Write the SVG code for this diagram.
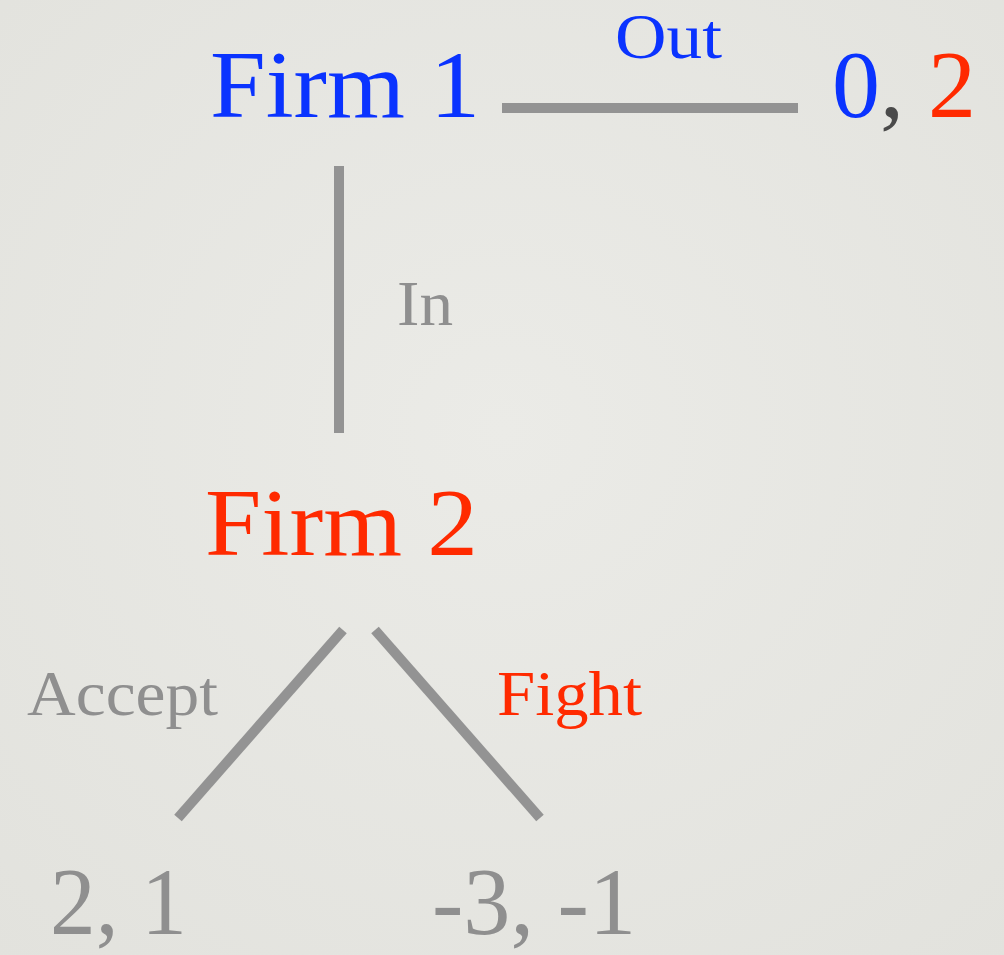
<svg xmlns="http://www.w3.org/2000/svg" width="1004" height="955" viewBox="0 0 1004 955">
  <defs>
    <radialGradient id="bg" cx="50%" cy="45%" r="75%">
      <stop offset="0" stop-color="#ebebe7"/>
      <stop offset="1" stop-color="#e2e2dd"/>
    </radialGradient>
  </defs>
  <style>
    text { font-family: "Liberation Serif", "DejaVu Serif", serif; }
    .big { font-size: 96px; }
    .small { font-size: 64px; }
    .blue { fill: #0a33ff; }
    .red { fill: #ff2a00; }
    .gray { fill: #8f8f8f; }
    .edge { stroke: #939393; stroke-width: 10; fill: none; }
  </style>
  <rect width="1004" height="955" fill="url(#bg)"/>

  <g id="connectors">
    <line class="edge" x1="502" y1="108" x2="798" y2="108"/>
    <line class="edge" x1="339" y1="166" x2="339" y2="433"/>
    <line class="edge" x1="343" y1="630" x2="178" y2="818"/>
    <line class="edge" x1="375" y1="630" x2="540" y2="818"/>
  </g>

  <g id="firm1">
    <text class="big blue" x="210" y="117" textLength="270" lengthAdjust="spacingAndGlyphs">Firm 1</text>
  </g>
  <g id="payoff-out">
    <text class="big" x="832" y="117"><tspan class="blue">0</tspan><tspan fill="#4a4a4a">,</tspan><tspan class="red" x="928">2</tspan></text>
  </g>
  <g id="label-out">
    <text class="small blue" x="615" y="58" textLength="107" lengthAdjust="spacingAndGlyphs">Out</text>
  </g>
  <g id="label-in">
    <text class="small gray" x="397" y="325" textLength="56" lengthAdjust="spacingAndGlyphs">In</text>
  </g>
  <g id="firm2">
    <text class="big red" x="205" y="555" textLength="273" lengthAdjust="spacingAndGlyphs">Firm 2</text>
  </g>
  <g id="label-accept">
    <text class="small gray" x="27" y="715" textLength="191" lengthAdjust="spacingAndGlyphs">Accept</text>
  </g>
  <g id="label-fight">
    <text class="small red" x="497" y="715" textLength="145" lengthAdjust="spacingAndGlyphs">Fight</text>
  </g>
  <g id="payoff-accept">
    <text class="big gray" x="50" y="934" textLength="137" lengthAdjust="spacingAndGlyphs">2, 1</text>
  </g>
  <g id="payoff-fight">
    <text class="big gray" x="432" y="934" textLength="204" lengthAdjust="spacingAndGlyphs">-3, -1</text>
  </g>
</svg>
